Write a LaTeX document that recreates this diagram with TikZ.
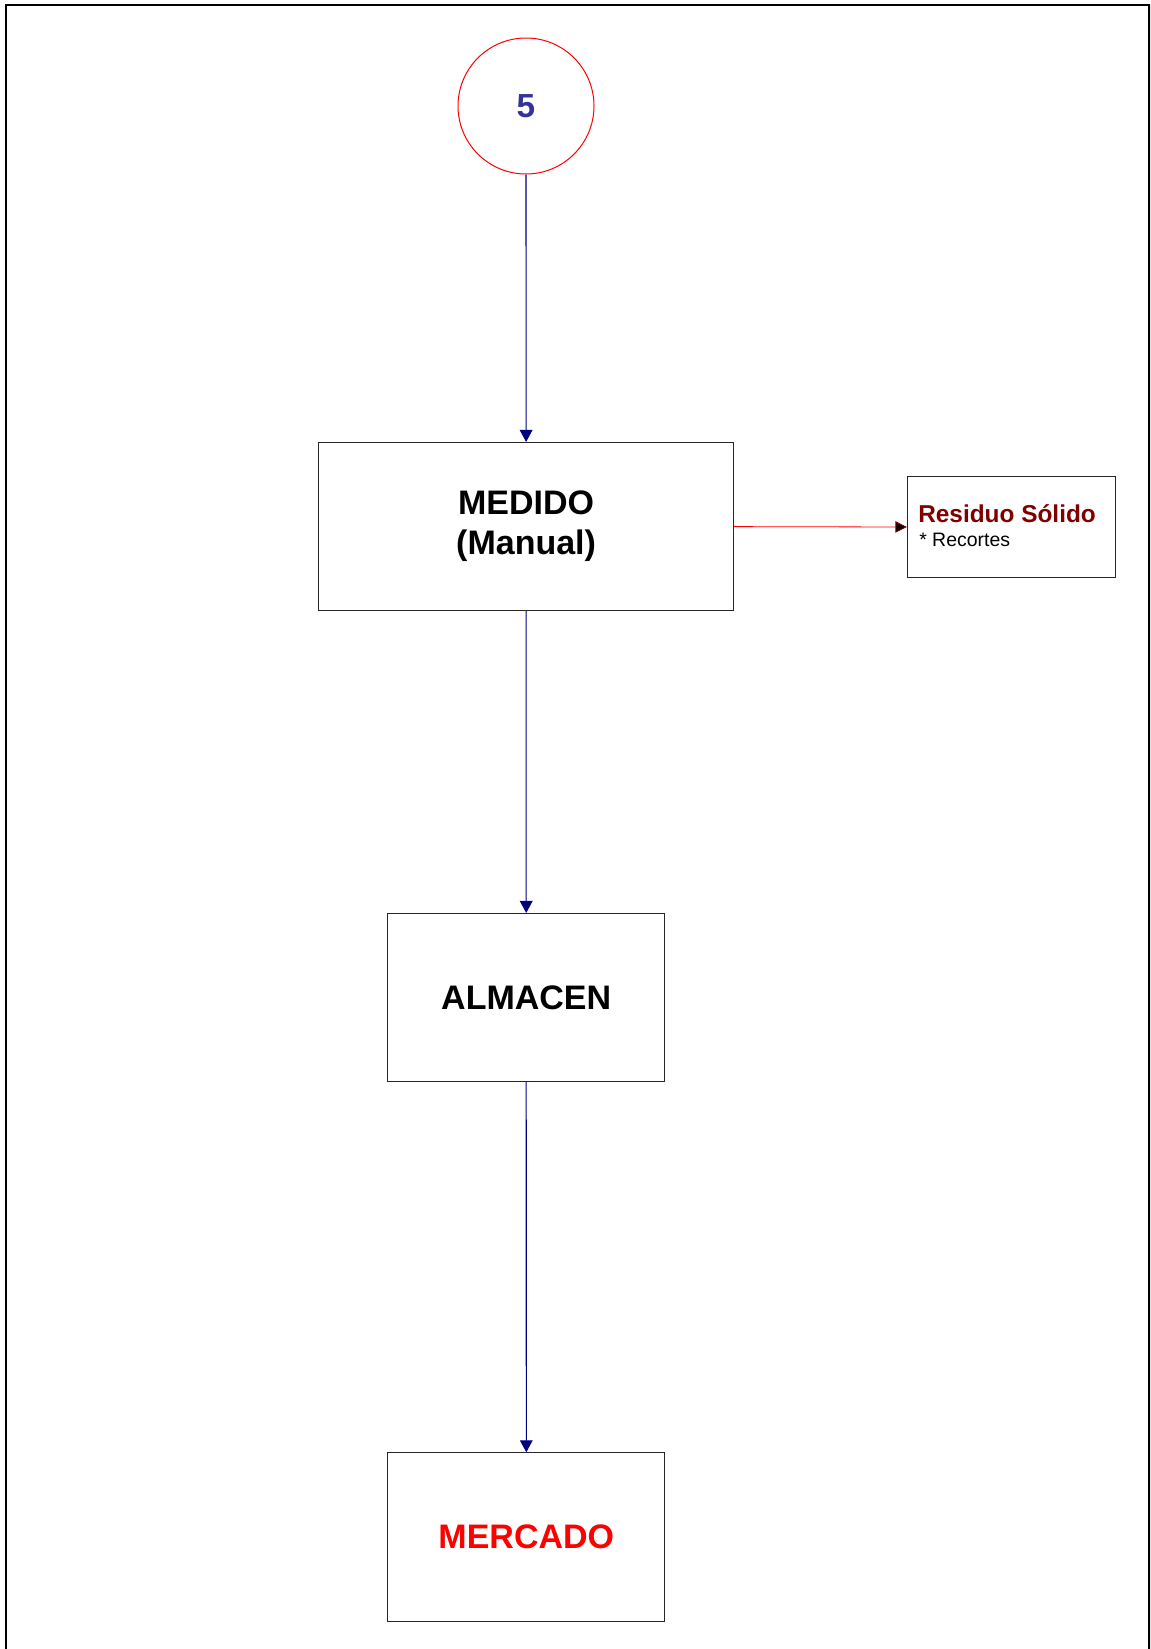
\documentclass[tikz,border=0pt]{standalone}
\usepackage{fontspec}
\setmainfont{Liberation Sans}
\usetikzlibrary{arrows.meta}
\definecolor{flowblue}{HTML}{000080}
\definecolor{numblue}{HTML}{333399}
\definecolor{wastered}{HTML}{800000}
\begin{document}
\begin{tikzpicture}[x=0.75pt,y=-0.75pt,
  procbox/.style={draw=black!85,line width=0.75pt,minimum width=#1,minimum height=126.2pt,inner sep=0pt,align=center},
  flow/.style={draw=flowblue,line width=0.8pt,-{Triangle[width=9.5pt,length=9pt]}},
  waste/.style={draw=red,line width=0.6pt,-{Triangle[width=8.5pt,length=8.5pt,fill=black,color=wastered]}},
  bigtext/.style={font=\fontsize{25.5pt}{30pt}\selectfont\bfseries}]
\useasboundingbox (0,0) rectangle (1150,1649);
\clip (0,0) rectangle (1150,1649);
% page frame (open at the bottom edge)
\draw[line width=1.6pt] (6,1700) -- (6,5) -- (1149.5,5) -- (1149.5,1700);

% connector circle
\node[circle,draw=red,line width=0.75pt,minimum size=102pt,inner sep=0pt,
      text=numblue,font=\fontsize{25pt}{30pt}\selectfont\bfseries] (c5) at (526,106) {5};

% process boxes
\node[procbox=311.4pt,bigtext] (medido) at (526.1,526.6) {MEDIDO\\(Manual)};
\node[procbox=207.4pt,bigtext] (almacen) at (526.2,997.6) {ALMACEN};
\node[procbox=208pt,bigtext,text=red] (mercado) at (526.3,1536.9) {MERCADO};

% waste output box
\node[draw=black!85,line width=0.75pt,minimum width=156.3pt,minimum height=75.5pt,inner sep=0pt] (resid) at (1011.5,527) {};
\node[anchor=base west,inner sep=0pt,text=wastered,font=\fontsize{18.3pt}{22pt}\selectfont\bfseries] (residtxt) at (918,522.7) {Residuo Sólido};
\node[anchor=base west,inner sep=0pt,font=\fontsize{14.6pt}{17pt}\selectfont] (recort) at (919,546.7) {* Recortes};

% flow connectors
\draw[flow] (c5.south) -- (medido.north);
\draw[flow] (medido.south) -- (almacen.north);
\draw[flow] (almacen.south) -- (mercado.north);
\draw[waste] (medido.east) -- (resid.west);
\end{tikzpicture}
\end{document}
